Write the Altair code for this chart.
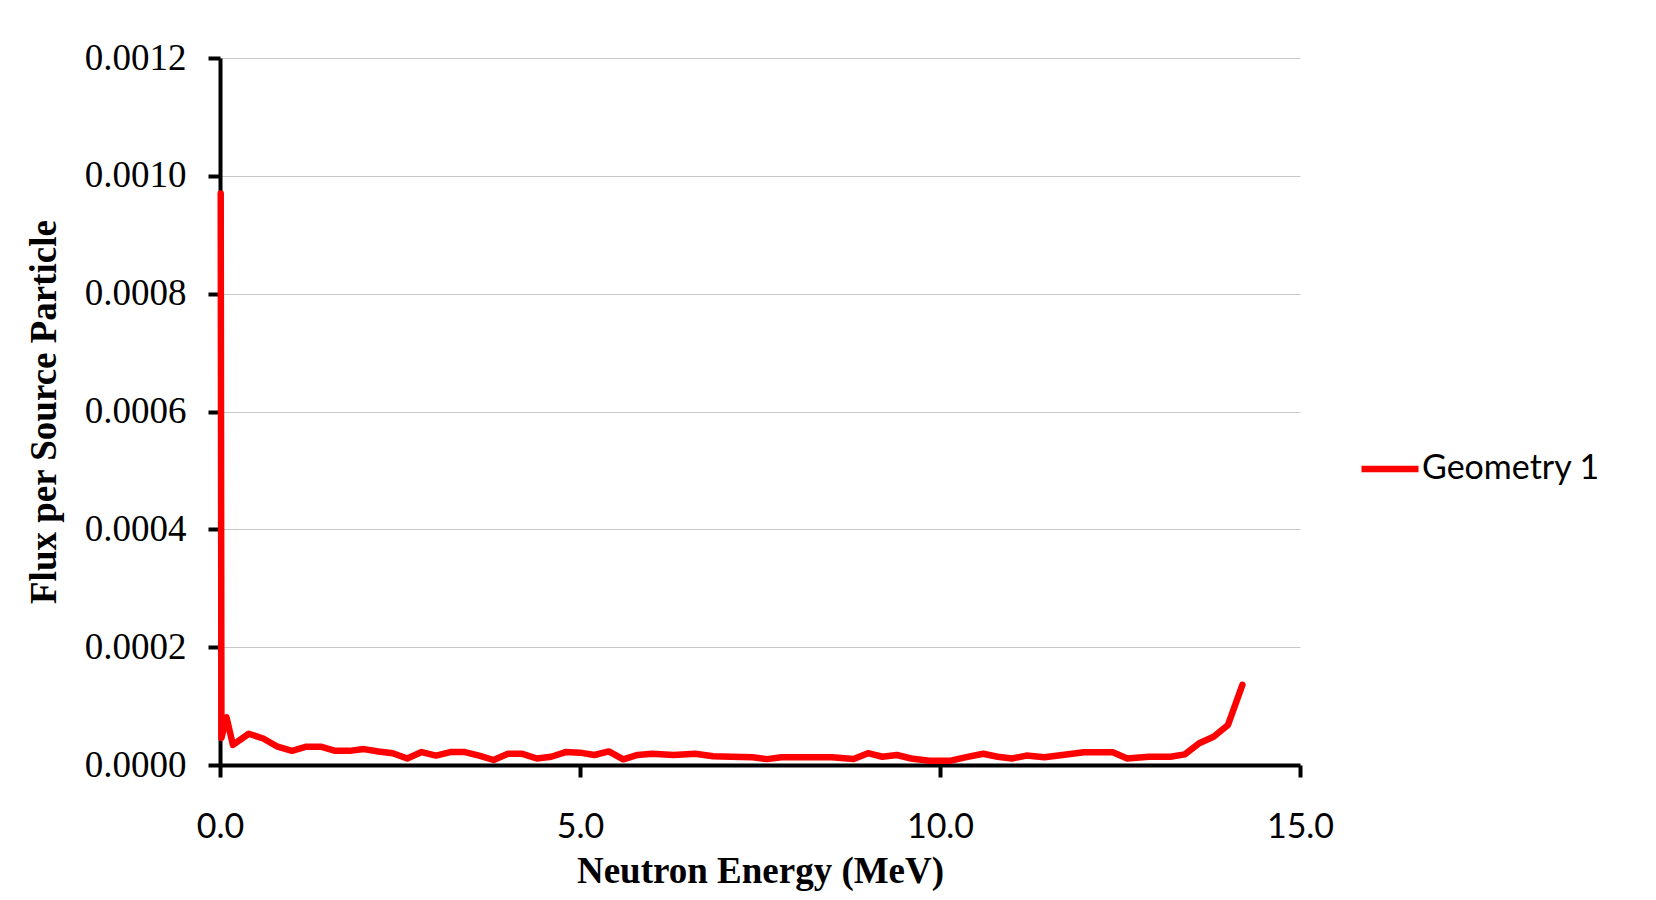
import altair as alt
import pandas as pd

# Neutron energy (MeV) and flux per source particle
energy = [0.01, 0.02, 0.09, 0.18, 0.4, 0.6, 0.8, 1.0, 1.2, 1.4, 1.6, 1.8, 2.0, 2.2, 2.4, 2.6,
          2.8, 3.0, 3.2, 3.4, 3.6, 3.8, 4.0, 4.2, 4.4, 4.6, 4.8, 5.0, 5.2, 5.4, 5.6, 5.8,
          6.0, 6.3, 6.6, 6.85, 7.1, 7.4, 7.6, 7.8, 8.1, 8.3, 8.5, 8.8, 9.0, 9.2, 9.4, 9.6,
          9.85, 10.15, 10.35, 10.6, 10.8, 11.0, 11.2, 11.45, 11.7, 12.0, 12.4, 12.6, 12.9,
          13.2, 13.4, 13.6, 13.8, 14.0, 14.2]
flux = [0.000970, 0.000046, 0.000081, 0.000034, 0.000053, 0.000045, 0.000031, 0.000024,
        0.000031, 0.000031, 0.000024, 0.000024, 0.000027, 0.000023, 0.000020, 0.000011,
        0.000022, 0.000016, 0.000022, 0.000022, 0.000016, 0.0000085, 0.000019, 0.000019,
        0.000011, 0.000014, 0.000022, 0.000021, 0.000017, 0.000023, 0.0000096, 0.000017,
        0.000019, 0.000017, 0.000019, 0.000015, 0.000014, 0.000013, 0.000010, 0.000013,
        0.000013, 0.000013, 0.000013, 0.000010, 0.000020, 0.000014, 0.000017, 0.000011,
        0.0000073, 0.0000073, 0.000013, 0.000019, 0.000014, 0.000011, 0.000016, 0.000013,
        0.000017, 0.0000215, 0.0000215, 0.000011, 0.000014, 0.000014, 0.000018, 0.000037,
        0.000048, 0.000068, 0.000136]
series_name = "Geometry 1"
x_ticks = [0, 5, 10, 15]
y_ticks = [0.0, 0.0002, 0.0004, 0.0006, 0.0008, 0.0010, 0.0012]

df = pd.DataFrame({"energy": energy, "flux": flux, "series": [series_name] * len(energy)})

chart = alt.Chart(df).mark_line(
    strokeWidth=6.5, strokeCap="round", strokeJoin="round"
).encode(
    x=alt.X("energy:Q",
            scale=alt.Scale(domain=[0, 15], nice=False, zero=False),
            axis=alt.Axis(values=x_ticks, format=".1f", title="Neutron Energy (MeV)",
                          grid=False, labelFont="Lato", labelFontSize=34,
                          labelColor="#000000", labelPadding=33, labelFlush=False,
                          titleFont="Liberation Serif", titleFontWeight="bold",
                          titleFontSize=37, titleColor="#000000",
                          titleY=117, titleBaseline="alphabetic")),
    y=alt.Y("flux:Q",
            scale=alt.Scale(domain=[0, 0.0012], nice=False),
            axis=alt.Axis(values=y_ticks, format=".4f", title="Flux per Source Particle",
                          grid=True, gridColor="#c8c8c8", gridWidth=1,
                          labelFont="Liberation Serif", labelFontSize=37,
                          labelColor="#000000", labelPadding=22, labelFlush=False,
                          titleFont="Liberation Serif", titleFontWeight="bold",
                          titleFontSize=37, titleColor="#000000",
                          titleAngle=270, titleX=-165, titleY=353.5,
                          titleAlign="center", titleBaseline="alphabetic")),
    color=alt.Color("series:N",
                    scale=alt.Scale(domain=[series_name], range=["#ff0000"]),
                    legend=alt.Legend(title=None, orient="none", legendX=1138, legendY=379,
                                      symbolType="stroke", symbolSize=3249,
                                      symbolStrokeWidth=6.5, labelFont="Lato",
                                      labelFontSize=34, labelColor="#000000",
                                      labelOffset=0, labelLimit=0, padding=0))
).properties(
    width=1080, height=707,
    autosize=alt.AutoSizeParams(type="none"),
    padding={"left": 212, "top": 50, "right": 348, "bottom": 127},
    background="#ffffff"
).configure_axis(
    domainColor="#000000", domainWidth=4, tickColor="#000000", tickWidth=4, tickSize=12
).configure_view(strokeWidth=0)

chart.save("out.html", embed_options={"renderer": "svg", "actions": False})
